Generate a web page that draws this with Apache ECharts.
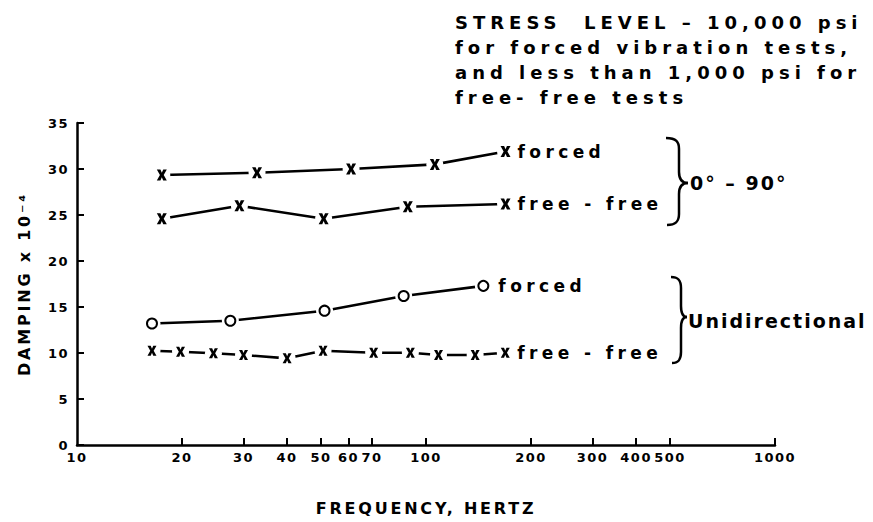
<!DOCTYPE html>
<html>
<head>
<meta charset="utf-8">
<script src="https://cdn.jsdelivr.net/npm/echarts@6/dist/echarts.min.js"></script>
<style>
  html, body { margin: 0; padding: 0; background: #fff; }
  #chart { width: 873px; height: 522px; }
  #chart text[style*="13px"] { letter-spacing: 1.5px; }
  #chart text[style*="16px"] { letter-spacing: 2.8px; }
  #chart text[style*="17px"] { letter-spacing: 4.4px; }
  #chart text[style*="18px"] { letter-spacing: 5px; }
  #chart text[style*="19px"] { letter-spacing: 2px; }
</style>
</head>
<body>
<div id="chart"></div>
<script>
// ---- data ----
const freqAngleForced = [17.5, 32.8, 61, 106, 169];
const dampAngleForced = [29.35, 29.6, 30.0, 30.5, 31.9];
const freqAngleFree = [17.5, 29.2, 50.9, 88.7, 169];
const dampAngleFree = [24.6, 26.0, 24.6, 25.9, 26.2];
const freqUniForced = [16.4, 27.5, 51.2, 86.3, 146];
const dampUniForced = [13.2, 13.5, 14.6, 16.2, 17.3];
const freqUniFree = [16.4, 19.8, 24.6, 30.0, 40.0, 50.7, 70.8, 90.2, 108.6, 138.3, 168.7];
const dampUniFree = [10.25, 10.14, 9.97, 9.78, 9.42, 10.25, 10.03, 10.03, 9.78, 9.78, 10.03];
const xTickValues = [20, 30, 40, 50, 60, 70, 100, 200, 300, 400, 500, 1000];
const xLabelValues = [10, 20, 30, 40, 50, 60, 70, 100, 200, 300, 400, 500, 1000];
const titleLines = ['STRESS  LEVEL \u2013 10,000 psi', 'for forced vibration tests,', 'and less than 1,000 psi for', 'free- free tests'];
const seriesLabels = ['forced', 'free - free', 'forced', 'free - free'];
const groupLabels = ['0\u00b0 \u2013 90\u00b0', 'Unidirectional'];

const FONT = '"DejaVu Sans", sans-serif';
const X_SYMBOL = 'path://M0,0 L3.6,0 L5,3 L6.4,0 L10,0 L6.9,5 L10,10 L6.4,10 L5,7 L3.6,10 L0,10 L3.1,5 Z';

function pairs(xs, ys) { return xs.map((x, i) => [x, ys[i]]); }

function makeSeries(xs, ys, label, labelDist, symbol, symSize, zBase) {
  const data = pairs(xs, ys);
  const isCircle = symbol === 'circle';
  return [
    {
      type: 'line', data: data, symbol: 'none', z: zBase,
      lineStyle: { color: '#000', width: 2.6 },
      endLabel: {
        show: true, formatter: label, distance: labelDist,
        color: '#000', fontFamily: FONT, fontWeight: 'bold', fontSize: 17
      },
      silent: true
    },
    {
      type: 'scatter', data: data, symbol: 'circle', symbolSize: 17, z: zBase + 1,
      itemStyle: { color: '#fff', opacity: 1 }, silent: true
    },
    {
      type: 'scatter', data: data, symbol: isCircle ? 'emptyCircle' : symbol,
      symbolSize: symSize, z: zBase + 2, silent: true,
      itemStyle: isCircle
        ? { color: '#000', borderColor: '#000', borderWidth: 2.6, opacity: 1 }
        : { color: '#000', opacity: 1 }
    }
  ];
}

// curly brace made of bezier curves and lines (annotation)
function brace(x0, xs, xt, yt, ym, yb) {
  const st = { stroke: '#000', lineWidth: 2.5, fill: null };
  const r = 11;
  return [
    { type: 'bezierCurve', silent: true, style: st,
      shape: { x1: x0, y1: yt, cpx1: x0 + (xs - x0) * 0.8, cpy1: yt, cpx2: xs, cpy2: yt + 4, x2: xs, y2: yt + r } },
    { type: 'line', silent: true, style: st, shape: { x1: xs, y1: yt + r, x2: xs, y2: ym - r } },
    { type: 'bezierCurve', silent: true, style: st,
      shape: { x1: xs, y1: ym - r, cpx1: xs, cpy1: ym - 4, cpx2: xs + (xt - xs) * 0.3, cpy2: ym, x2: xt, y2: ym } },
    { type: 'bezierCurve', silent: true, style: st,
      shape: { x1: xt, y1: ym, cpx1: xs + (xt - xs) * 0.3, cpy1: ym, cpx2: xs, cpy2: ym + 4, x2: xs, y2: ym + r } },
    { type: 'line', silent: true, style: st, shape: { x1: xs, y1: ym + r, x2: xs, y2: yb - r } },
    { type: 'bezierCurve', silent: true, style: st,
      shape: { x1: xs, y1: yb - r, cpx1: xs, cpy1: yb - 4, cpx2: x0 + (xs - x0) * 0.8, cpy2: yb, x2: x0 + 1, y2: yb } }
  ];
}

const chart = echarts.init(document.getElementById('chart'), null, { renderer: 'svg' });
chart.setOption({
  animation: false,
  backgroundColor: '#fff',
  title: {
    text: titleLines.join('\n'),
    left: 450, top: 5,
    textStyle: { fontFamily: FONT, fontWeight: 'bold', fontSize: 18, lineHeight: 25, color: '#000' }
  },
  grid: { left: 77, right: 98, top: 123, bottom: 77, containLabel: false, outerBoundsMode: 'none' },
  xAxis: {
    type: 'log', logBase: 10, min: 10, max: 1000,
    name: 'FREQUENCY, HERTZ', nameLocation: 'middle', nameGap: 55,
    nameTextStyle: { fontFamily: FONT, fontWeight: 'bold', fontSize: 16, color: '#000' },
    axisLine: { show: true, lineStyle: { color: '#000', width: 2.5 } },
    axisTick: { show: true, inside: true, length: 7, lineStyle: { color: '#000', width: 2 }, customValues: xTickValues },
    axisLabel: {
      customValues: xLabelValues, margin: 6, color: '#000',
      fontFamily: FONT, fontWeight: 'bold', fontSize: 13,
      formatter: v => String(Math.round(v))
    },
    splitLine: { show: false }, minorTick: { show: false }
  },
  yAxis: {
    type: 'value', min: 0, max: 35, interval: 5,
    name: 'DAMPING x 10\u207b\u2074', nameLocation: 'middle', nameGap: 45, nameRotate: 90,
    nameTextStyle: { fontFamily: FONT, fontWeight: 'bold', fontSize: 16, color: '#000' },
    axisLine: { show: true, lineStyle: { color: '#000', width: 2.5 } },
    axisTick: { show: true, inside: true, length: 7, lineStyle: { color: '#000', width: 2 } },
    axisLabel: { margin: 8, color: '#000', fontFamily: FONT, fontWeight: 'bold', fontSize: 13 },
    splitLine: { show: false }
  },
  graphic: [].concat(
    brace(666, 679, 688, 138, 183, 225),
    brace(671, 681, 687, 277, 317, 363),
    [
      { type: 'text', x: 690, y: 183, silent: true,
        style: { text: groupLabels[0], font: 'bold 19px "DejaVu Sans"', fill: '#000', verticalAlign: 'middle', textVerticalAlign: 'middle' } },
      { type: 'text', x: 688, y: 321, silent: true,
        style: { text: groupLabels[1], font: 'bold 19px "DejaVu Sans"', fill: '#000', verticalAlign: 'middle', textVerticalAlign: 'middle' } }
    ]
  ),
  series: [].concat(
    makeSeries(freqAngleForced, dampAngleForced, seriesLabels[0], 12, X_SYMBOL, [10, 11], 10),
    makeSeries(freqAngleFree, dampAngleFree, seriesLabels[1], 12, X_SYMBOL, [10, 11], 10),
    makeSeries(freqUniForced, dampUniForced, seriesLabels[2], 15, 'circle', 10, 10),
    makeSeries(freqUniFree, dampUniFree, seriesLabels[3], 12, X_SYMBOL, [9, 10], 10)
  )
});
</script>
</body>
</html>
